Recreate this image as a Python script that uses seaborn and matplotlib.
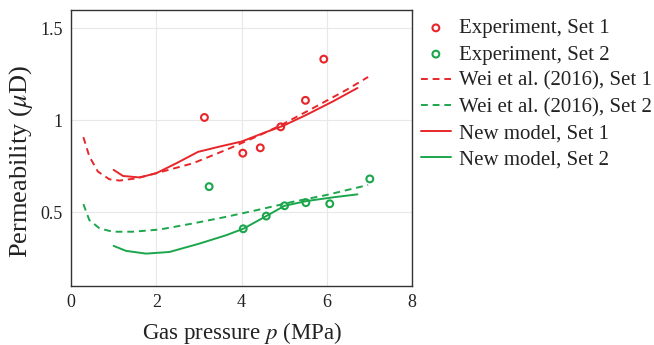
import numpy as np
import pandas as pd
import matplotlib
matplotlib.use("Agg")
import matplotlib.pyplot as plt
import seaborn as sns

# Experimental data
exp1_p = [3.13, 4.03, 4.44, 4.92, 5.50, 5.93]
exp1_k = [1.016, 0.822, 0.851, 0.965, 1.109, 1.333]
exp2_p = [3.24, 4.04, 4.58, 5.01, 5.51, 6.07, 7.01]
exp2_k = [0.640, 0.411, 0.480, 0.536, 0.553, 0.547, 0.682]

# Wei et al. (2016)
wei1_p = [0.29, 0.43, 0.63, 0.90, 1.14, 1.53, 2.00, 2.86, 3.64, 4.43, 4.94, 5.68, 6.47, 6.97]
wei1_k = [0.909, 0.804, 0.722, 0.680, 0.673, 0.685, 0.713, 0.767, 0.840, 0.920, 0.976, 1.067, 1.167, 1.236]
wei2_p = [0.29, 0.43, 0.67, 0.98, 1.45, 2.08, 2.86, 3.64, 4.43, 5.21, 6.00, 6.97]
wei2_k = [0.545, 0.458, 0.413, 0.395, 0.395, 0.407, 0.440, 0.476, 0.516, 0.558, 0.595, 0.649]

# New model
new1_p = [1.00, 1.22, 1.61, 2.00, 2.47, 2.98, 3.49, 4.00, 4.51, 4.98, 5.53, 6.15, 6.72]
new1_k = [0.731, 0.698, 0.690, 0.713, 0.767, 0.829, 0.858, 0.885, 0.931, 0.971, 1.031, 1.104, 1.176]
new2_p = [1.00, 1.29, 1.76, 2.31, 3.02, 3.64, 4.04, 4.58, 5.01, 5.53, 6.15, 6.72]
new2_k = [0.318, 0.291, 0.276, 0.285, 0.331, 0.376, 0.411, 0.480, 0.536, 0.562, 0.582, 0.598]

RED = "#e8262a"
GREEN = "#1ca64c"

sns.set_theme(style="whitegrid")
plt.rcParams["font.family"] = ["Liberation Serif", "DejaVu Serif"]
plt.rcParams["mathtext.fontset"] = "stix"

fig = plt.figure(figsize=(6.54, 3.45), dpi=100)
ax = fig.add_axes([0.1086, 0.171, 0.5214, 0.800])

lw = 1.4
sns.scatterplot(x=exp1_p, y=exp1_k, ax=ax, marker="o", s=68, facecolor="none",
                edgecolor=RED, linewidth=1.5, label="Experiment, Set 1", zorder=5)
sns.scatterplot(x=exp2_p, y=exp2_k, ax=ax, marker="o", s=68, facecolor="none",
                edgecolor=GREEN, linewidth=1.5, label="Experiment, Set 2", zorder=5)
sns.lineplot(x=wei1_p, y=wei1_k, ax=ax, color=RED, lw=lw, ls=(0, (3.5, 2.5)),
             label="Wei et al. (2016), Set 1", sort=False)
sns.lineplot(x=wei2_p, y=wei2_k, ax=ax, color=GREEN, lw=lw, ls=(0, (3.5, 2.5)),
             label="Wei et al. (2016), Set 2", sort=False)
sns.lineplot(x=new1_p, y=new1_k, ax=ax, color=RED, lw=lw,
             label="New model, Set 1", sort=False)
sns.lineplot(x=new2_p, y=new2_k, ax=ax, color=GREEN, lw=lw,
             label="New model, Set 2", sort=False)

ax.set_xlim(0, 8)
ax.set_ylim(0.1, 1.6)
ax.set_xticks([0, 2, 4, 6, 8])
ax.set_yticks([0.5, 1.0, 1.5])
ax.set_yticklabels(["0.5", "1", "1.5"])
ax.grid(True, color="#e8e8e8", lw=0.8)
for s in ax.spines.values():
    s.set_color("#333333")
    s.set_linewidth(1.0)
ax.tick_params(axis="both", direction="inout", length=6, width=1.0, color="#bbbbbb",
               labelsize=13, labelcolor="#222222", pad=3)
ax.set_xlabel("Gas pressure $p$ (MPa)", fontsize=16.5, color="#222222", labelpad=6)
ax.set_ylabel("Permeability ($\\mu$D)", fontsize=19, color="#222222")
ax.yaxis.set_label_coords(-0.105, 0.45)

handles, labels = ax.get_legend_handles_labels()
for h in handles[:2]:
    try:
        h.set_sizes([24])
    except Exception:
        pass
leg = ax.legend(handles, labels, loc="upper left", bbox_to_anchor=(1.0, 1.0),
                frameon=False, fontsize=15, handlelength=1.45, handletextpad=0.4,
                labelspacing=0.32, borderaxespad=0.0, borderpad=0.42,
                labelcolor="#222222")

fig.savefig("out.png", dpi=100)
